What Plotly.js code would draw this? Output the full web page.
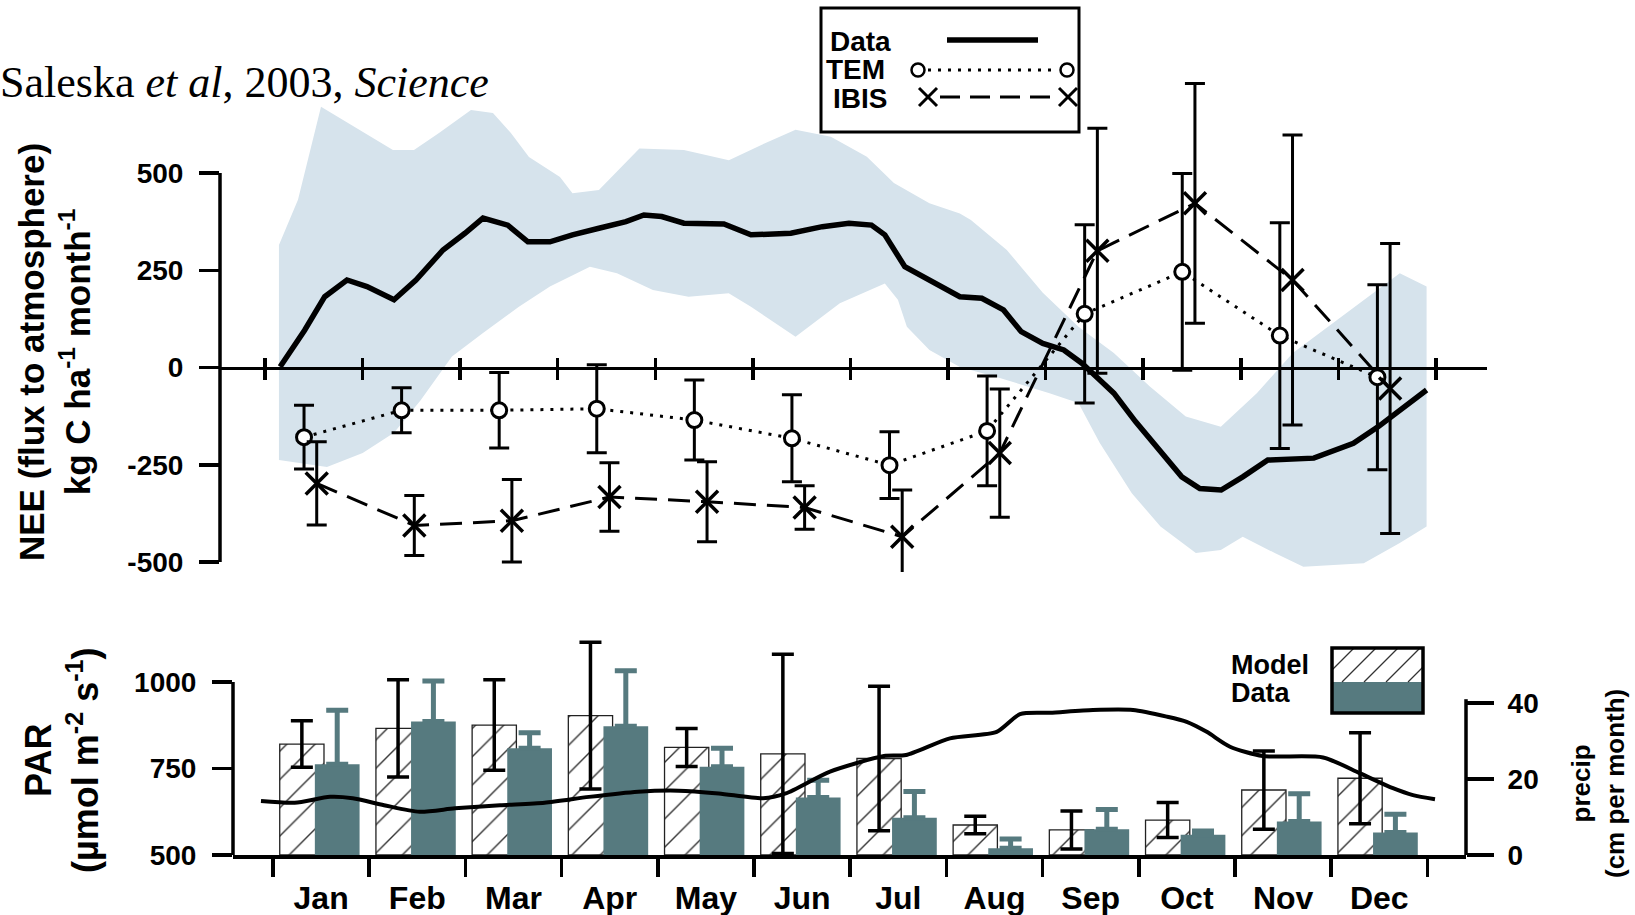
<!DOCTYPE html>
<html><head><meta charset="utf-8">
<script src="https://cdn.plot.ly/plotly-3.0.1.min.js"></script>
<style>html,body{margin:0;padding:0;background:#fff}#chart{width:1635px;height:915px}</style>
</head><body><div id="chart"></div>
<script>
// ---------- DATA ----------
const months = ['Jan','Feb','Mar','Apr','May','Jun','Jul','Aug','Sep','Oct','Nov','Dec'];

// Top panel: NEE (kg C ha-1 month-1); x in months (0 = start of Jan)
const dataLineX = [0.155,0.406,0.612,0.840,1.045,1.322,1.547,1.824,2.049,2.234,2.488,2.694,2.920,3.151,3.422,3.699,3.883,4.066,4.293,4.703,4.980,5.389,5.712,5.984,6.215,6.352,6.557,6.809,7.121,7.346,7.568,7.750,7.971,8.186,8.371,8.555,8.699,8.921,9.139,9.395,9.580,9.799,10.020,10.277,10.748,11.154,11.410,11.629,11.904];
const dataLineY = [2,96,182,225,208,174,225,302,345,384,366,323,323,341,358,375,392,388,371,369,341,345,362,371,366,341,259,225,182,178,148,92,62,45,11,-32,-66,-139,-204,-281,-311,-315,-281,-238,-233,-195,-152,-109,-58];

const bandUpperX = [0.143,0.338,0.574,1.311,1.527,1.783,2.111,2.336,2.520,2.705,3.023,3.151,3.422,3.837,4.293,4.754,5.118,5.437,5.799,6.168,6.445,6.809,7.121,7.234,7.602,7.971,8.336,8.699,9.068,9.436,9.795,10.164,10.533,10.898,11.260,11.629,11.904];
const bandUpperY = [315,431,670,559,559,603,662,654,603,541,490,448,456,563,559,533,576,611,593,542,474,422,396,379,302,192,105,37,-49,-126,-152,-66,37,105,174,242,208];
const bandLowerX = [0.143,0.635,1.001,1.322,1.595,1.916,2.234,2.602,2.920,3.330,3.607,3.975,4.340,4.752,4.980,5.437,5.891,6.352,6.486,6.578,6.809,7.121,7.530,8.040,8.336,8.555,8.883,9.177,9.539,9.795,10.020,10.348,10.641,11.260,11.629,11.904];
const bandLowerY = [-238,-256,-220,-168,-84,28,89,156,208,259,242,199,182,191,156,79,165,216,174,105,45,1,-27,-66,-91,-194,-323,-409,-477,-469,-435,-477,-512,-503,-451,-409];

const temNEE  = [-179,-110,-110,-106,-135,-182,-251,-163,138,246,82,-25];
const temErr  = [82,58,97,113,103,112,86,141,229,253,290,238];
const ibisNEE = [-298,-406,-394,-333,-345,-360,-435,-220,300,422,225,-54];
const ibisErr = [107,77,106,88,103,56,120,165,315,308,373,373];

// Bottom panel: precipitation bars (cm per month) and PAR line
const precipModel    = [29.2,33.3,34.2,36.7,28.3,26.6,25.4,7.9,6.6,9.2,17.1,20.2];
const precipModelErr = [6.1,12.8,11.9,19.3,5.0,26.2,19.0,2.3,5.0,4.6,10.3,12.0];
const precipData     = [23.9,35.1,28.1,33.9,23.2,15.1,9.8,1.8,6.8,5.3,8.8,5.9];
const precipDataErr  = [14.2,10.7,4.1,14.6,4.9,4.6,6.9,2.4,5.2,1.0,7.3,4.8];

const parX = [-0.125,0.225,0.593,0.828,1.154,1.524,1.892,2.360,2.823,3.285,3.794,4.216,4.634,5.094,5.330,5.790,6.351,6.580,7.037,7.523,7.765,8.077,8.524,8.940,9.290,9.498,9.706,9.948,10.290,10.915,11.300,11.642,11.850,12.079];
const parY = [656,651,668,664,644,625,635,644,651,668,683,686,678,664,678,741,786,789,837,856,907,911,919,919,900,885,856,813,786,782,736,693,673,661];

const neeTicks = [-500,-250,0,250,500];
const neeTickText = ['-500','-250','0','250','500'];
const parTicks = [500,750,1000];
const precipTicks = [0,20,40];

// ---------- STYLE / LAYOUT ----------
const W = 1635, H = 915;
const px = x => x / W, py = y => 1 - y / H;
const SANS = 'Liberation Sans, Arial, Helvetica, sans-serif';
const TEAL = '#567a7f';
const BAND = '#d6e3ec';
const monthIdx = months.map((_, i) => i);

const traces = [];
traces.push({
  x: bandUpperX.concat(bandLowerX.slice().reverse()),
  y: bandUpperY.concat(bandLowerY.slice().reverse()),
  fill: 'toself', fillcolor: BAND, mode: 'lines', line: {width: 0},
  xaxis: 'x', yaxis: 'y', hoverinfo: 'skip', showlegend: false
});
traces.push({
  x: dataLineX, y: dataLineY, mode: 'lines',
  line: {color: 'black', width: 5.5},
  xaxis: 'x', yaxis: 'y', showlegend: false
});
traces.push({
  x: monthIdx.map(i => i + 0.40), y: temNEE, mode: 'lines+markers',
  line: {color: 'black', width: 3, dash: '3px,7px'},
  marker: {symbol: 'circle', size: 15, color: 'white', line: {color: 'black', width: 3}},
  error_y: {type: 'data', array: temErr, color: 'black', thickness: 3, width: 10},
  xaxis: 'x', yaxis: 'y', showlegend: false
});
traces.push({
  x: monthIdx.map(i => i + 0.53), y: ibisNEE, mode: 'lines+markers',
  line: {color: 'black', width: 3, dash: '22px,11px'},
  marker: {symbol: 'x-thin-open', size: 22, color: 'black', line: {color: 'black', width: 3.5}},
  error_y: {type: 'data', array: ibisErr, color: 'black', thickness: 3, width: 10},
  xaxis: 'x', yaxis: 'y', showlegend: false
});
traces.push({x: [], y: [], xaxis: 'x3', yaxis: 'y', showlegend: false, hoverinfo: 'skip'});
traces.push({x: [], y: [], xaxis: 'x4', yaxis: 'y2', showlegend: false, hoverinfo: 'skip'});

// bottom: model bars (precip axis y2)
traces.push({
  type: 'bar', x: monthIdx.map(i => i + 0.5), y: precipModel,
  offset: -0.43, width: 0.46,
  marker: {color: 'white', line: {color: '#222', width: 1.3},
           pattern: {shape: '/', fgcolor: '#333', bgcolor: 'white', size: 20, solidity: 0.07}},
  error_y: {type: 'data', array: precipModelErr, color: 'black', thickness: 3.5, width: 11},
  xaxis: 'x2', yaxis: 'y2', showlegend: false
});
traces.push({
  type: 'bar', x: monthIdx.map(i => i + 0.5), y: precipData,
  offset: -0.065, width: 0.465,
  marker: {color: TEAL, line: {width: 0}},
  error_y: {type: 'data', symmetric: false, array: precipDataErr, arrayminus: precipData.map(() => 0),
            color: TEAL, thickness: 5, width: 11},
  xaxis: 'x2', yaxis: 'y2', showlegend: false
});
// PAR line (PAR axis y3, drawn above bars)
traces.push({
  x: parX, y: parY, mode: 'lines', line: {color: 'black', width: 4, shape: 'spline', smoothing: 0.7},
  xaxis: 'x2', yaxis: 'y3', showlegend: false
});

const tickFont = {family: SANS, size: 28, color: 'black', weight: 'bold'};

const shapes = [];
shapes.push({type: 'line', xref: 'x domain', yref: 'y', x0: 0, x1: 0, y0: -500, y1: 500, line: {color: 'black', width: 3.5}});
shapes.push({type: 'line', xref: 'x2 domain', yref: 'y3', x0: 0, x1: 0, y0: 500, y1: 1000, line: {color: 'black', width: 3.5}});
shapes.push({type: 'line', xref: 'x2 domain', yref: 'y2', x0: 1, x1: 1, y0: 0, y1: 41, line: {color: 'black', width: 3.5}});

function pline(x0, y0, x1, y1, w, dash) {
  shapes.push({type: 'line', xref: 'paper', yref: 'paper', x0: px(x0), y0: py(y0), x1: px(x1), y1: py(y1),
               line: {color: 'black', width: w, dash: dash || 'solid'}});
}
// top legend
shapes.push({type: 'rect', xref: 'paper', yref: 'paper', x0: px(821), x1: px(1079), y0: py(132), y1: py(8),
             line: {color: 'black', width: 3}, fillcolor: 'white'});
pline(947, 40, 1038, 40, 5.5);
pline(928, 70, 1058, 70, 3, '3px,7px');
[918, 1067].forEach(cx => shapes.push({type: 'circle', xref: 'paper', yref: 'paper',
  x0: px(cx - 6.5), x1: px(cx + 6.5), y0: py(76.5), y1: py(63.5), line: {color: 'black', width: 2.5}, fillcolor: 'white'}));
pline(940, 97, 1058, 97, 3, '20px,10px');
[928, 1068].forEach(cx => { pline(cx - 9, 88, cx + 9, 106, 3); pline(cx - 9, 106, cx + 9, 88, 3); });

// bottom legend
const bx0 = 1332, bx1 = 1423, by0 = 648, bym = 682, by1 = 713;
shapes.push({type: 'rect', xref: 'paper', yref: 'paper', x0: px(bx0), x1: px(bx1), y0: py(by1), y1: py(by0),
             line: {width: 0}, fillcolor: 'white'});
shapes.push({type: 'rect', xref: 'paper', yref: 'paper', x0: px(bx0), x1: px(bx1), y0: py(by1), y1: py(bym),
             line: {width: 0}, fillcolor: TEAL});
const hh = bym - by0;
for (let c = bx0 - hh; c < bx1; c += 22) {
  const t0 = Math.max(0, (bx0 - c) / hh), t1 = Math.min(1, (bx1 - c) / hh);
  if (t1 <= t0) continue;
  shapes.push({type: 'line', xref: 'paper', yref: 'paper',
    x0: px(c + t0 * hh), y0: py(bym - t0 * hh), x1: px(c + t1 * hh), y1: py(bym - t1 * hh),
    line: {color: '#333', width: 1.2}});
}
shapes.push({type: 'rect', xref: 'paper', yref: 'paper', x0: px(bx0), x1: px(bx1), y0: py(by1), y1: py(by0),
             line: {color: 'black', width: 3.5}, fillcolor: 'rgba(0,0,0,0)'});

const bold = (s) => ({family: SANS, size: s, color: 'black', weight: 'bold'});
const annotations = [
  {text: 'Saleska <i>et al</i>, 2003, <i>Science</i>', xref: 'paper', yref: 'paper', x: px(-2), y: py(82),
   xanchor: 'left', yanchor: 'middle', showarrow: false, font: {family: 'Liberation Serif, Times New Roman, serif', size: 44, color: 'black'}},
  {text: 'NEE (flux to atmosphere)<br>kg C ha<sup>-1</sup> month<sup>-1</sup>', xref: 'paper', yref: 'paper',
   x: px(54), y: py(352), xanchor: 'center', yanchor: 'middle', textangle: -90, showarrow: false, font: bold(35)},
  {text: 'PAR<br>(µmol m<sup>-2</sup> s<sup>-1</sup>)', xref: 'paper', yref: 'paper',
   x: px(62), y: py(760), xanchor: 'center', yanchor: 'middle', textangle: -90, showarrow: false, font: bold(36)},
  {text: 'precip<br>(cm per month)', xref: 'paper', yref: 'paper',
   x: px(1598), y: py(784), xanchor: 'center', yanchor: 'middle', textangle: -90, showarrow: false, font: bold(26)},
  {text: 'Data', xref: 'paper', yref: 'paper', x: px(829), y: py(42), xanchor: 'left', yanchor: 'middle', showarrow: false, font: bold(28), borderpad: 0},
  {text: 'TEM', xref: 'paper', yref: 'paper', x: px(825), y: py(70), xanchor: 'left', yanchor: 'middle', showarrow: false, font: bold(28), borderpad: 0},
  {text: 'IBIS', xref: 'paper', yref: 'paper', x: px(832), y: py(99), xanchor: 'left', yanchor: 'middle', showarrow: false, font: bold(28), borderpad: 0},
  {text: 'Model', xref: 'paper', yref: 'paper', x: px(1230), y: py(665), xanchor: 'left', yanchor: 'middle', showarrow: false, font: bold(27), borderpad: 0},
  {text: 'Data', xref: 'paper', yref: 'paper', x: px(1230), y: py(693), xanchor: 'left', yanchor: 'middle', showarrow: false, font: bold(27), borderpad: 0}
];

const topX0 = 220, topX1 = 1487, topTick0 = 265, topStep = 97.58;
const botX0 = 233, botX1 = 1466, botTick0 = 273, botStep = 96.2;
const topRange = [(topX0 - topTick0) / topStep, (topX1 - topTick0) / topStep];
const botRange = [(botX0 - botTick0) / botStep, (botX1 - botTick0) / botStep];
const neeZero = 367.5, neeScale = 0.389;
const parBase = 855, parScale = 0.346, precipScale = 3.8;
const topYpx = [60, 572], botYpx = [600, 855];
const monthEdges = months.map((_, i) => i).concat([12]);

const layout = {
  width: W, height: H, autosize: false,
  margin: {l: 0, r: 0, t: 0, b: 0},
  paper_bgcolor: 'white', plot_bgcolor: 'rgba(0,0,0,0)',
  showlegend: false, barmode: 'overlay',
  font: {family: SANS, color: 'black'},
  xaxis: {domain: [px(topX0), px(topX1)], range: topRange, anchor: 'free', position: py(neeZero),
          showgrid: false, zeroline: false, showline: true, linecolor: 'black', linewidth: 3.5,
          tickvals: monthEdges, showticklabels: false, ticks: 'outside', ticklen: 10, tickwidth: 3.5, tickcolor: 'black'},
  xaxis3: {overlaying: 'x', range: topRange, anchor: 'free', position: py(neeZero),
           showgrid: false, zeroline: false, showline: false,
           tickvals: monthEdges, showticklabels: false, ticks: 'inside', ticklen: 10, tickwidth: 3.5, tickcolor: 'black'},
  yaxis: {domain: [py(topYpx[1]), py(topYpx[0])],
          range: [(neeZero - topYpx[1]) / neeScale, (neeZero - topYpx[0]) / neeScale],
          anchor: 'x', showgrid: false, zeroline: false, showline: false,
          tickvals: neeTicks, ticktext: neeTickText, ticks: 'outside', ticklen: 20, tickwidth: 3.5, tickcolor: 'black',
          tickfont: tickFont, ticklabelstandoff: 10},
  xaxis2: {domain: [px(botX0), px(botX1)], range: botRange, anchor: 'y2',
           showgrid: false, zeroline: false, showline: true, linecolor: 'black', linewidth: 3.5,
           tickvals: monthEdges, showticklabels: false, ticks: 'outside', ticklen: 18, tickwidth: 3.5, tickcolor: 'black'},
  xaxis4: {overlaying: 'x2', range: botRange, anchor: 'y2', showgrid: false, zeroline: false, showline: false,
           tickvals: months.map((_, i) => i + 0.5), ticktext: months, ticks: '',
           tickfont: bold(32), ticklabelstandoff: 21, ticklabeloverflow: 'allow'},
  yaxis2: {domain: [py(botYpx[1]), py(botYpx[0])], side: 'right',
           range: [0, (parBase - botYpx[0]) / precipScale],
           anchor: 'x2', showgrid: false, zeroline: false, showline: false,
           tickvals: precipTicks, ticks: 'outside', ticklen: 27, tickwidth: 3.5, tickcolor: 'black',
           tickfont: tickFont, ticklabelstandoff: 8},
  yaxis3: {overlaying: 'y2', side: 'left', anchor: 'x2',
           range: [500, 500 + (parBase - botYpx[0]) / parScale],
           showgrid: false, zeroline: false, showline: false,
           tickvals: parTicks, ticks: 'outside', ticklen: 20, tickwidth: 3.5, tickcolor: 'black',
           tickfont: tickFont, ticklabelstandoff: 10},
  shapes: shapes, annotations: annotations
};

Plotly.newPlot('chart', traces, layout, {displayModeBar: false, staticPlot: true});
</script>
</body></html>
